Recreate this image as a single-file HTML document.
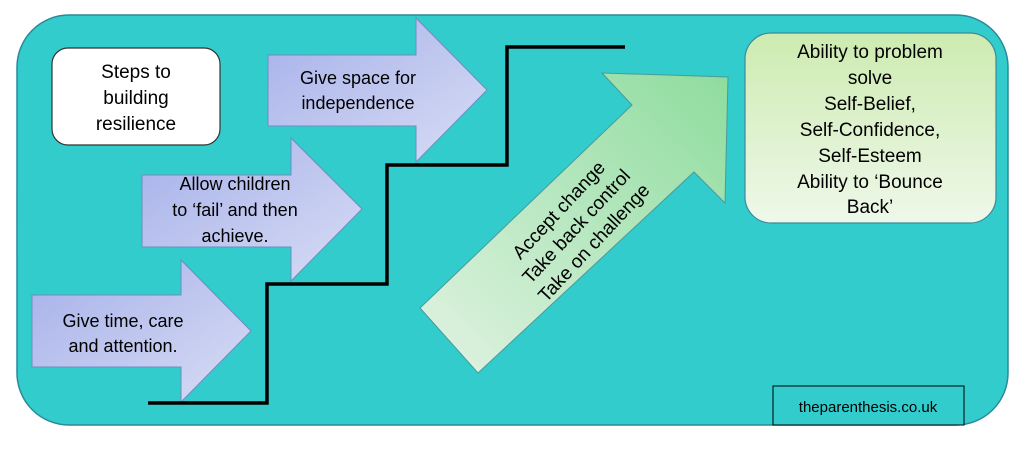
<!DOCTYPE html>
<html><head><meta charset="utf-8"><style>
body{margin:0;background:#fff;width:1024px;height:453px;overflow:hidden}
</style></head><body>
<svg width="1024" height="453" viewBox="0 0 1024 453" xmlns="http://www.w3.org/2000/svg" font-family="Liberation Sans, sans-serif">
<defs>
<linearGradient id="bl" x1="0" y1="0" x2="1" y2="1">
<stop offset="0" stop-color="#a6b0ea"/><stop offset="0.6" stop-color="#c4cbf0"/><stop offset="1" stop-color="#d8dcf5"/></linearGradient>
<linearGradient id="gr" x1="0" y1="1" x2="1" y2="0">
<stop offset="0" stop-color="#e2f3e3"/><stop offset="1" stop-color="#8edc9e"/></linearGradient>
<linearGradient id="rb" x1="0" y1="0" x2="0" y2="1">
<stop offset="0" stop-color="#cdebb0"/><stop offset="1" stop-color="#eef8ea"/></linearGradient>
</defs>
<rect x="17" y="15" width="991" height="410" rx="52" fill="#33cccc" stroke="#2a8a9a" stroke-width="1.5"/>
<rect x="52" y="48" width="168" height="97" rx="16" fill="#fff" stroke="#333" stroke-width="1.2"/>
<g font-size="19" text-anchor="middle" fill="#000">
<text x="136" y="78">Steps to</text><text x="136" y="104">building</text><text x="136" y="130">resilience</text>
</g>
<polygon points="32,295 181,295 181,260 251,331 181,402 181,367 32,367" fill="url(#bl)" stroke="#6a8fc0" stroke-width="1"/>
<polygon points="142,175 291,175 291,138 362,209 291,281 291,247 142,247" fill="url(#bl)" stroke="#6a8fc0" stroke-width="1"/>
<polygon points="268,55 416,55 416,18 487,90 416,162 416,126 268,126" fill="url(#bl)" stroke="#6a8fc0" stroke-width="1"/>
<g font-size="18" text-anchor="middle" fill="#000">
<text x="123" y="327">Give time, care</text><text x="123" y="352">and attention.</text>
<text x="235" y="190">Allow children</text><text x="235" y="216">to ‘fail’ and then</text><text x="235" y="242">achieve.</text>
<text x="358" y="84">Give space for</text><text x="358" y="109">independence</text>
</g>
<polyline points="148,403 267,403 267,284 387,284 387,165 507,165 507,47 625,47" fill="none" stroke="#000" stroke-width="3.5"/>
<polygon points="420,308 632,105 602,73 728,77 725,203 694,172 478,373" fill="url(#gr)" stroke="#4a9a9a" stroke-width="1"/>
<g transform="translate(578,228) rotate(-47)" font-size="19" text-anchor="middle" fill="#000">
<text x="0" y="-20">Accept change</text><text x="0" y="4">Take back control</text><text x="0" y="28">Take on challenge</text>
</g>
<rect x="745" y="33" width="251" height="190" rx="26" fill="url(#rb)" stroke="#3a8a9a" stroke-width="1.2"/>
<g font-size="19" text-anchor="middle" fill="#000">
<text x="870" y="58">Ability to problem</text><text x="870" y="84">solve</text><text x="870" y="110">Self-Belief,</text>
<text x="870" y="136">Self-Confidence,</text><text x="870" y="162">Self-Esteem</text><text x="870" y="188">Ability to ‘Bounce</text><text x="870" y="213">Back’</text>
</g>
<rect x="773" y="386" width="191" height="39" fill="#33cccc" stroke="#000" stroke-width="1"/>
<text x="868" y="412" font-size="15" text-anchor="middle" fill="#000">theparenthesis.co.uk</text>
</svg>
</body></html>
